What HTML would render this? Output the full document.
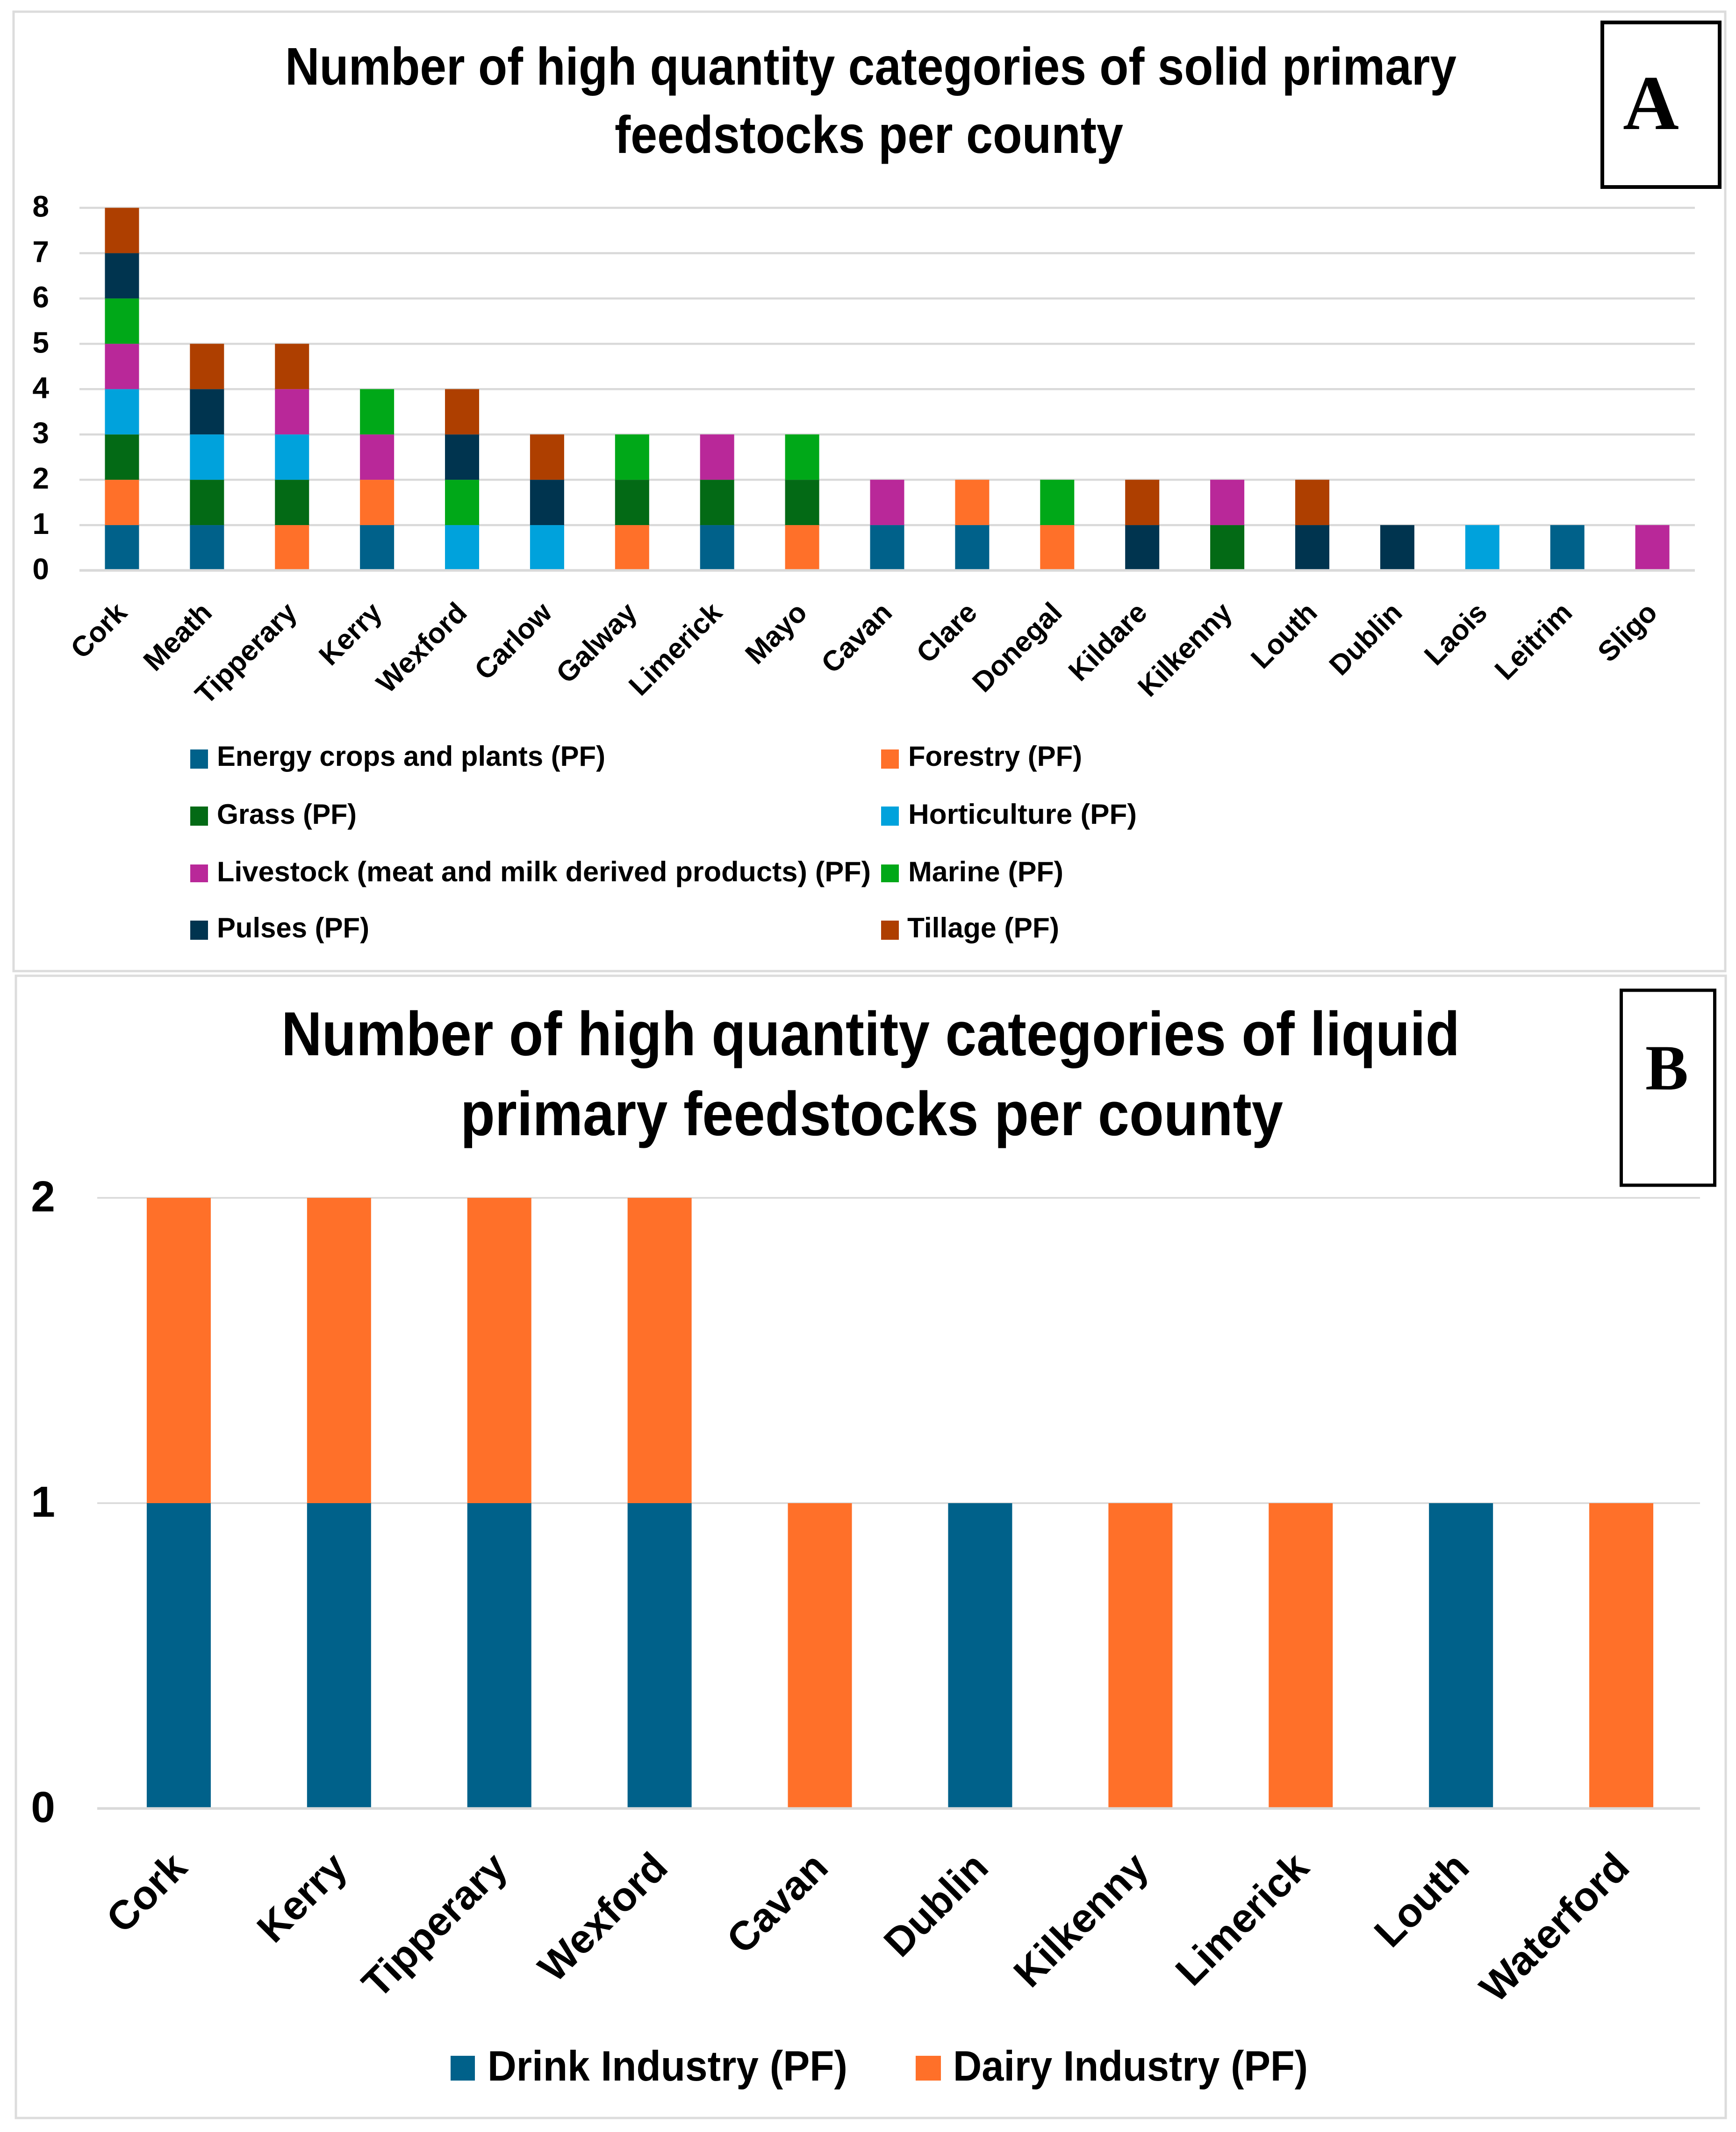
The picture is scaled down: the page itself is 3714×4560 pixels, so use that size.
<!DOCTYPE html>
<html lang="en">
<head>
<meta charset="utf-8">
<title>High quantity categories of primary feedstocks per county</title>
<style>
html,body{margin:0;padding:0;background:#fff;}
svg{display:block;}
text{font-family:"Liberation Sans",Arial,sans-serif;font-weight:700;fill:#000;}
.serif{font-family:"Liberation Serif","Times New Roman",serif;}
</style>
</head>
<body>
<svg id="figure" xmlns="http://www.w3.org/2000/svg" width="3714" height="4560" viewBox="0 0 3714 4560">
  <rect x="0" y="0" width="3714" height="4560" fill="#fff"/>

  <!-- Panel A -->
  <rect x="29" y="25" width="3662" height="2052" fill="#fff" stroke="#dcdcdc" stroke-width="5"/>
  <text x="610" y="181" font-size="113" textLength="2506" lengthAdjust="spacingAndGlyphs">Number of high quantity categories of solid primary</text>
  <text x="1315" y="327" font-size="113" textLength="1088" lengthAdjust="spacingAndGlyphs">feedstocks per county</text>
  <rect x="3428" y="48" width="251" height="352" fill="#fff" stroke="#000" stroke-width="8"/>
  <text class="serif" x="3532" y="276" font-size="166" text-anchor="middle">A</text>
  <g id="chart-a"></g>
  <g>
    <g>
      <rect x="407" y="1603" width="38" height="41" fill="#00618a"/>
      <text x="464" y="1638" font-size="60" textLength="831" lengthAdjust="spacingAndGlyphs">Energy crops and plants (PF)</text>
    </g>
    <g>
      <rect x="1885" y="1603" width="38" height="41" fill="#ff7029"/>
      <text x="1943" y="1638" font-size="60" textLength="372" lengthAdjust="spacingAndGlyphs">Forestry (PF)</text>
    </g>
    <g>
      <rect x="407" y="1725" width="38" height="41" fill="#036a15"/>
      <text x="464" y="1762" font-size="60" textLength="299" lengthAdjust="spacingAndGlyphs">Grass (PF)</text>
    </g>
    <g>
      <rect x="1885" y="1725" width="38" height="41" fill="#00a2dc"/>
      <text x="1943" y="1762" font-size="60" textLength="489" lengthAdjust="spacingAndGlyphs">Horticulture (PF)</text>
    </g>
    <g>
      <rect x="407" y="1849" width="38" height="38" fill="#b92899"/>
      <text x="464" y="1885" font-size="60" textLength="1399" lengthAdjust="spacingAndGlyphs">Livestock (meat and milk derived products) (PF)</text>
    </g>
    <g>
      <rect x="1885" y="1849" width="38" height="38" fill="#00a818"/>
      <text x="1943" y="1885" font-size="60" textLength="332" lengthAdjust="spacingAndGlyphs">Marine (PF)</text>
    </g>
    <g>
      <rect x="407" y="1969" width="38" height="41" fill="#00344f"/>
      <text x="464" y="2005" font-size="60" textLength="326" lengthAdjust="spacingAndGlyphs">Pulses (PF)</text>
    </g>
    <g>
      <rect x="1885" y="1969" width="38" height="41" fill="#ae3f00"/>
      <text x="1941" y="2005" font-size="60" textLength="325" lengthAdjust="spacingAndGlyphs">Tillage (PF)</text>
    </g>
  </g>

  <!-- Panel B -->
  <rect x="34" y="2087" width="3658" height="2443" fill="#fff" stroke="#dcdcdc" stroke-width="5"/>
  <text x="602" y="2257" font-size="133" textLength="2521" lengthAdjust="spacingAndGlyphs">Number of high quantity categories of liquid</text>
  <text x="985" y="2428" font-size="133" textLength="1760" lengthAdjust="spacingAndGlyphs">primary feedstocks per county</text>
  <rect x="3468.5" y="2118" width="200" height="417" fill="#fff" stroke="#000" stroke-width="7"/>
  <text class="serif" x="3566" y="2330" font-size="138" text-anchor="middle">B</text>
  <g id="chart-b"></g>
  <g>
    <g>
      <rect x="964" y="4397" width="52" height="53" fill="#00618a"/>
      <text x="1043" y="4450" font-size="91" textLength="770" lengthAdjust="spacingAndGlyphs">Drink Industry (PF)</text>
    </g>
    <g>
      <rect x="1959" y="4397" width="54" height="53" fill="#ff7029"/>
      <text x="2039" y="4450" font-size="91" textLength="759" lengthAdjust="spacingAndGlyphs">Dairy Industry (PF)</text>
    </g>
  </g>
</svg>

<script>
// ---- Panel A data ----
const solidCounties = ["Cork","Meath","Tipperary","Kerry","Wexford","Carlow","Galway","Limerick","Mayo","Cavan","Clare","Donegal","Kildare","Kilkenny","Louth","Dublin","Laois","Leitrim","Sligo"];
const solidTicks = [0,1,2,3,4,5,6,7,8];
const energyCrops = [1,1,0,1,0,0,0,1,0,1,1,0,0,0,0,0,0,1,0];
const forestry    = [1,0,1,1,0,0,1,0,1,0,1,1,0,0,0,0,0,0,0];
const grass       = [1,1,1,0,0,0,1,1,1,0,0,0,0,1,0,0,0,0,0];
const horticulture= [1,1,1,0,1,1,0,0,0,0,0,0,0,0,0,0,1,0,0];
const livestock   = [1,0,1,1,0,0,0,1,0,1,0,0,0,1,0,0,0,0,1];
const marine      = [1,0,0,1,1,0,1,0,1,0,0,1,0,0,0,0,0,0,0];
const pulses      = [1,1,0,0,1,1,0,0,0,0,0,0,1,0,1,1,0,0,0];
const tillage     = [1,1,1,0,1,1,0,0,0,0,0,0,1,0,1,0,0,0,0];

// ---- Panel B data ----
const liquidCounties = ["Cork","Kerry","Tipperary","Wexford","Cavan","Dublin","Kilkenny","Limerick","Louth","Waterford"];
const liquidTicks = [0,1,2];
const drinkIndustry = [1,1,1,1,0,1,0,0,1,0];
const dairyIndustry = [1,1,1,1,1,0,1,1,0,1];

const SVG_NS = "http://www.w3.org/2000/svg";

function make(parent, tag, attrs, name) {
  const el = document.createElementNS(SVG_NS, tag);
  for (const k in attrs) el.setAttribute(k, attrs[k]);
  
  
  parent.appendChild(el);
  return el;
}

function drawChart(cfg) {
  const root = document.getElementById(cfg.id);
  const maxV = cfg.ticks[cfg.ticks.length - 1];
  const n = cfg.categories.length;
  const step = (cfg.right - cfg.left) / n;
  const yOf = v => cfg.y0 + (cfg.yMax - cfg.y0) * v / maxV;
  const xOf = i => cfg.left + step * (i + 0.5) + cfg.barShift;

  cfg.ticks.forEach(t => {
    if (t === 0) return;
    make(root, 'line', {x1: cfg.left, x2: cfg.right, y1: yOf(t), y2: yOf(t), stroke: '#d9d9d9', 'stroke-width': cfg.gridWidth}, 'gridline-' + t);
  });

  cfg.categories.forEach((c, i) => {
    let stack = 0;
    cfg.series.forEach(s => {
      const v = s.values[i];
      if (!v) return;
      make(root, 'rect', {
        x: xOf(i) - cfg.barWidth / 2,
        y: yOf(stack + v),
        width: cfg.barWidth,
        height: yOf(stack) - yOf(stack + v),
        fill: s.color
      }, 'bar-' + c.toLowerCase() + '-' + s.key);
      stack += v;
    });
    const lx = xOf(i) + cfg.labelDx;
    const label = make(root, 'text', {
      x: lx, y: cfg.labelY, 'font-size': cfg.labelSize, 'text-anchor': 'end',
      transform: 'rotate(-45 ' + lx + ' ' + cfg.labelY + ')'
    }, 'x-axis-label-' + c.toLowerCase());
    label.textContent = c;
  });

  make(root, 'line', {x1: cfg.left, x2: cfg.right, y1: cfg.y0, y2: cfg.y0, stroke: '#d9d9d9', 'stroke-width': cfg.axisWidth}, 'x-axis-line');

  cfg.ticks.forEach(t => {
    const lab = make(root, 'text', {x: cfg.tickX, y: yOf(t) + cfg.tickDy, 'font-size': cfg.tickSize, 'text-anchor': 'end'}, 'y-axis-label-' + t);
    lab.textContent = String(t);
  });
}

drawChart({
  id: 'chart-a',
  categories: solidCounties,
  ticks: solidTicks,
  series: [
    {key: 'energy-crops', values: energyCrops, color: '#00618a'},
    {key: 'forestry', values: forestry, color: '#ff7029'},
    {key: 'grass', values: grass, color: '#036a15'},
    {key: 'horticulture', values: horticulture, color: '#00a2dc'},
    {key: 'livestock', values: livestock, color: '#b92899'},
    {key: 'marine', values: marine, color: '#00a818'},
    {key: 'pulses', values: pulses, color: '#00344f'},
    {key: 'tillage', values: tillage, color: '#ae3f00'}
  ],
  left: 170, right: 3626, y0: 1220, yMax: 444.5, barShift: 0,
  barWidth: 73, gridWidth: 4.5, axisWidth: 5.5,
  tickX: 105, tickDy: 19, tickSize: 64,
  labelDx: 14, labelY: 1314, labelSize: 61
});

drawChart({
  id: 'chart-b',
  categories: liquidCounties,
  ticks: liquidTicks,
  series: [
    {key: 'drink-industry', values: drinkIndustry, color: '#00618a'},
    {key: 'dairy-industry', values: dairyIndustry, color: '#ff7029'}
  ],
  left: 208, right: 3637, y0: 3868, yMax: 2562, barShift: 3,
  barWidth: 137, gridWidth: 3.5, axisWidth: 5.5,
  tickX: 118, tickDy: 29, tickSize: 93,
  labelDx: 22, labelY: 3999, labelSize: 87
});
</script>
</body>
</html>
